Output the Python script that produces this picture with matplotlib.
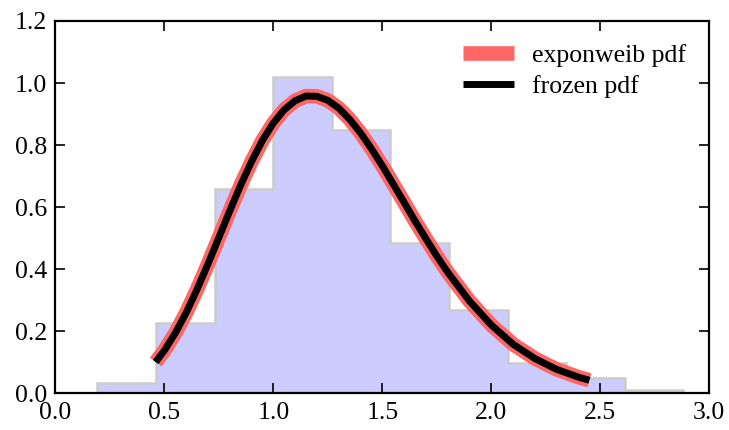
import matplotlib
matplotlib.use("Agg")
import matplotlib.pyplot as plt

plt.rcParams["font.family"] = "serif"
plt.rcParams["font.serif"] = ["Liberation Serif", "DejaVu Serif"]
plt.rcParams["font.size"] = 18.5

# histogram of samples (density)
bin_edges = [0.193, 0.462, 0.731, 0.999, 1.268, 1.537, 1.806, 2.075, 2.344, 2.612, 2.881]
bin_heights = [0.034, 0.228, 0.659, 1.019, 0.849, 0.486, 0.269, 0.097, 0.048, 0.010]

# pdf curve points
pdf_x = [0.46, 0.5, 0.55, 0.6, 0.65, 0.7, 0.75, 0.8, 0.85, 0.9, 0.95, 1.0, 1.05, 1.1,
         1.15, 1.2, 1.25, 1.3, 1.35, 1.4, 1.45, 1.5, 1.55, 1.6, 1.65, 1.7, 1.75, 1.8,
         1.9, 2.0, 2.1, 2.2, 2.3, 2.4, 2.45]
pdf_y = [0.101, 0.138, 0.194, 0.260, 0.335, 0.417, 0.502, 0.588, 0.671, 0.747, 0.815,
         0.871, 0.914, 0.943, 0.958, 0.957, 0.944, 0.919, 0.883, 0.839, 0.788, 0.733,
         0.674, 0.615, 0.555, 0.498, 0.442, 0.390, 0.297, 0.220, 0.158, 0.112, 0.077,
         0.052, 0.042]

fig = plt.figure(figsize=(7.29, 4.30), dpi=100)
ax = fig.add_axes([0.076, 0.0853, 0.897, 0.866])

ax.plot(pdf_x, pdf_y, color="#ff6666", lw=10.5, solid_capstyle="butt", label="exponweib pdf")
ax.plot(pdf_x, pdf_y, color="black", lw=5, solid_capstyle="butt", label="frozen pdf")
ax.hist(bin_edges[:-1], bins=bin_edges, weights=bin_heights, histtype="stepfilled",
        facecolor="#ccccff", edgecolor="#cccccc", lw=1.8, zorder=0)

ax.set_xlim(0, 3.0)
ax.set_ylim(0, 1.2)
ax.set_xticks([0.0, 0.5, 1.0, 1.5, 2.0, 2.5, 3.0])
ax.set_yticks([0.0, 0.2, 0.4, 0.6, 0.8, 1.0, 1.2])
ax.xaxis.set_major_formatter(matplotlib.ticker.FormatStrFormatter("%.1f"))
ax.yaxis.set_major_formatter(matplotlib.ticker.FormatStrFormatter("%.1f"))
ax.tick_params(direction="in", length=7, width=1.2, top=True, right=True, pad=6)
for s in ax.spines.values():
    s.set_linewidth(1.6)

ax.legend(loc="upper right", frameon=False, handlelength=2.0, handletextpad=0.7,
          borderaxespad=0.5, labelspacing=0.3)

fig.savefig("out.png", dpi=100)
